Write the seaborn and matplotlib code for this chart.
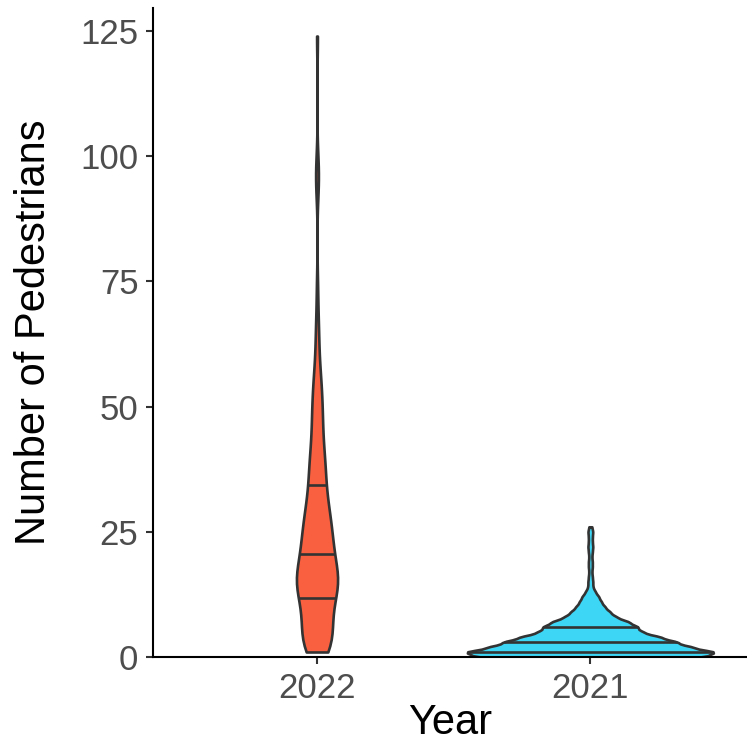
import numpy as np
import pandas as pd
import matplotlib
matplotlib.use("Agg")
import matplotlib.pyplot as plt
import seaborn as sns

# order on the x axis and fill colours
YEARS = ["2022", "2021"]
FILLS = ["#F8603F", "#3DD6F5"]

# pedestrians involved -> number of records with that value
peds_2022 = (list(range(1, 59))
             + [60, 62, 64, 66, 69, 74, 93, 95, 97, 99, 124])
recs_2022 = ([8, 5, 5, 4, 4, 4, 4, 4, 4, 4, 4]             # 1-11
             + [4, 6, 7, 7, 7, 6, 5, 4, 4]                 # 12-20
             + [5, 5, 4, 4, 4, 4, 4, 4, 3, 3, 3, 3, 2, 2]  # 21-34
             + [3, 2, 2, 3, 2, 2, 2]                       # 35-41
             + [2, 1, 2, 1, 2, 1, 2, 1, 2, 1]              # 42-51
             + [1, 2, 1, 1, 1, 1, 1]                       # 52-58
             + [1] * 11)

peds_2021 = list(range(0, 27))
recs_2021 = [242, 250, 199, 172, 139, 102, 95, 77, 51, 39, 29, 22, 17, 10, 5,
             5, 4, 3, 4, 4, 3, 4, 5, 4, 4, 5, 3]

Y_TICKS = [0, 25, 50, 75, 100, 125]


def build_frame():
    years = np.concatenate([
        np.repeat("2022", sum(recs_2022)),
        np.repeat("2021", sum(recs_2021)),
    ])
    peds = np.concatenate([
        np.repeat(peds_2022, recs_2022),
        np.repeat(peds_2021, recs_2021),
    ])
    return pd.DataFrame({"Year": years, "Pedestrians": peds})


def main():
    df = build_frame()

    sns.set_style("ticks")
    plt.rcParams["font.family"] = ["Liberation Sans", "DejaVu Sans"]

    fig = plt.figure(figsize=(7.47, 7.42), dpi=100)
    ax = fig.add_axes([153 / 747, 85 / 742, 594 / 747, 649 / 742])

    sns.violinplot(data=df, x="Year", y="Pedestrians", order=YEARS,
                   hue="Year", hue_order=YEARS, palette=FILLS, saturation=1,
                   inner="quart", cut=0, width=0.9, bw_adjust=0.5,
                   density_norm="area", common_norm=True,
                   linewidth=1.9, linecolor="#333333",
                   legend=False, ax=ax)

    # ggplot-like solid quantile lines
    for line in ax.lines:
        line.set_linestyle("-")
        line.set_solid_capstyle("butt")

    ax.set_xlim(-0.6, 1.573)
    ax.set_ylim(0, 129.6)
    ax.set_yticks(Y_TICKS)

    sns.despine(ax=ax)
    for side in ["left", "bottom"]:
        ax.spines[side].set_color("black")
        ax.spines[side].set_linewidth(1.5)

    ax.tick_params(length=5, width=1.5, color="#333333", labelsize=25,
                   labelcolor="#4D4D4D", pad=5.5)

    ax.set_xlabel("Year", fontsize=30, color="black")
    ax.set_ylabel("Number of Pedestrians", fontsize=30, color="black")
    ax.xaxis.label.set_va("baseline")
    ax.yaxis.label.set_va("baseline")
    ax.xaxis.set_label_coords(0.5, (657 - 734) / 649)
    ax.yaxis.set_label_coords((45 - 153) / 594, 0.5)

    fig.savefig("out.png", dpi=100)
    plt.close(fig)


if __name__ == "__main__":
    main()
